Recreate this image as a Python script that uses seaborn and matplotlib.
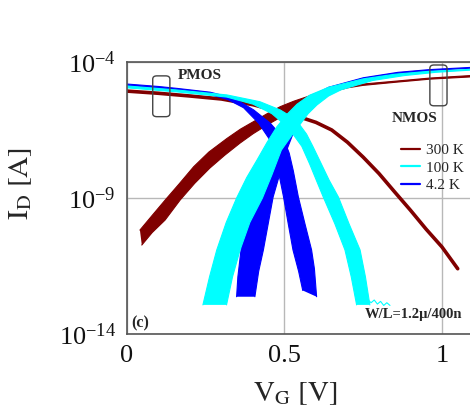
import numpy as np
import pandas as pd
import matplotlib
matplotlib.use("Agg")
import matplotlib.pyplot as plt
import seaborn as sns
from matplotlib.patches import FancyBboxPatch
from matplotlib.lines import Line2D
from matplotlib.ticker import FixedLocator, LogFormatterMathtext, NullLocator

# ---------------- data (VG in V, log10 of ID in A) ----------------
temps = ["300 K", "100 K", "4.2 K"]
temp_colors = ["#800000", "#00ffff", "#0000ff"]

# PMOS 300 K (narrow bundle, drawn as a thick line)
p300_vg = [0, 0.1, 0.2, 0.3, 0.4, 0.45, 0.5, 0.55, 0.6, 0.65, 0.7, 0.75, 0.8, 0.85, 0.9, 0.95, 1.0, 1.05]
p300_log = [-5.07, -5.15, -5.25, -5.36, -5.57, -5.72, -5.86, -6.03, -6.22, -6.5, -6.95, -7.5,
            -8.1, -8.78, -9.45, -10.15, -10.8, -11.6]

# NMOS 300 K bundle edges
n300_a_vg = [0.041, 0.08, 0.1216, 0.165, 0.2117, 0.26, 0.3175, 0.36, 0.402, 0.445, 0.487, 0.53,
             0.571, 0.635, 0.70, 0.749, 0.857, 0.962, 1.089]
n300_a_log = [-10.18, -9.64, -9.07, -8.49, -7.85, -7.31, -6.81, -6.47, -6.19, -5.90, -5.64, -5.44,
              -5.28, -5.00, -4.88, -4.81, -4.70, -4.59, -4.50]
n300_b_vg = [0.047, 0.08, 0.121, 0.169, 0.215, 0.263, 0.31, 0.359, 0.40, 0.444, 0.485, 0.529,
             0.58, 0.635, 0.70, 0.749, 0.857, 0.962, 1.089]
n300_b_log = [-10.73, -10.27, -9.81, -9.07, -8.46, -7.90, -7.43, -6.98, -6.64, -6.32, -6.05, -5.76,
              -5.45, -5.15, -4.95, -4.86, -4.74, -4.63, -4.55]

# PMOS 4.2 K bundle edges
p4_a_vg = [0, 0.1, 0.159, 0.264, 0.339, 0.402, 0.455, 0.47, 0.49, 0.505, 0.515, 0.528, 0.544,
           0.565, 0.586, 0.595, 0.602]
p4_a_log = [-4.81, -4.90, -4.97, -5.11, -5.33, -5.76, -6.25, -6.45, -6.75, -7.05, -7.35, -8.0,
            -8.96, -9.95, -10.91, -11.6, -12.63]
p4_b_vg = [0, 0.159, 0.264, 0.32, 0.37, 0.418, 0.45, 0.465, 0.482, 0.497, 0.512, 0.527, 0.545, 0.558]
p4_b_log = [-4.88, -5.03, -5.2, -5.38, -5.68, -6.25, -6.8, -7.24, -8.1, -8.96, -9.95, -10.91,
            -11.7, -12.4]

# NMOS 4.2 K bundle edges
n4_a_vg = [0.348, 0.352, 0.362, 0.375, 0.39, 0.43, 0.459, 0.48, 0.52, 0.57, 0.64, 0.75, 0.86, 0.96, 1.089]
n4_a_log = [-12.63, -11.9, -10.91, -9.9, -8.96, -7.7, -7.24, -6.7, -5.9, -5.35, -4.93, -4.58,
            -4.38, -4.28, -4.2]
n4_b_vg = [0.406, 0.418, 0.433, 0.464, 0.507, 0.525, 0.56, 0.61, 0.67, 0.77, 0.87, 0.97, 1.089]
n4_b_log = [-12.63, -11.7, -10.91, -8.96, -7.24, -6.7, -5.95, -5.4, -5.02, -4.64, -4.43, -4.31, -4.23]

# PMOS 100 K bundle edges
p100_a_vg = [0, 0.159, 0.317, 0.422, 0.486, 0.52, 0.549, 0.57, 0.59, 0.615, 0.642, 0.671, 0.705,
             0.740, 0.757, 0.771]
p100_a_log = [-4.88, -5.03, -5.21, -5.46, -5.76, -6.0, -6.32, -6.65, -7.1, -7.7, -8.35, -8.96,
              -9.95, -10.91, -11.9, -12.93]
p100_b_vg = [0, 0.159, 0.317, 0.40, 0.46, 0.50, 0.53, 0.555, 0.58, 0.603, 0.623, 0.66, 0.692,
             0.712, 0.729]
p100_b_log = [-4.95, -5.10, -5.29, -5.55, -5.9, -6.3, -6.7, -7.1, -7.75, -8.4, -8.96, -9.95,
              -10.91, -11.9, -12.93]
p100_tail_vg = [0.76, 0.775, 0.785, 0.795, 0.805, 0.815, 0.825, 0.835]
p100_tail_log = [-12.7, -12.85, -12.75, -12.9, -12.8, -12.95, -12.85, -12.95]

# NMOS 100 K bundle edges
n100_a_vg = [0.241, 0.262, 0.285, 0.315, 0.348, 0.38, 0.413, 0.445, 0.476, 0.51, 0.54, 0.58,
             0.64, 0.75, 0.85, 0.95, 1.089]
n100_a_log = [-12.93, -11.9, -10.91, -9.9, -9.0, -8.25, -7.6, -6.95, -6.38, -5.9, -5.55, -5.22,
              -4.93, -4.62, -4.45, -4.35, -4.27]
n100_b_vg = [0.316, 0.335, 0.359, 0.39, 0.43, 0.46, 0.49, 0.52, 0.549, 0.575, 0.603, 0.64,
             0.68, 0.78, 0.88, 0.98, 1.089]
n100_b_log = [-12.93, -11.9, -10.91, -9.9, -9.0, -8.15, -7.24, -6.75, -6.3, -5.9, -5.58, -5.25,
              -5.02, -4.68, -4.50, -4.38, -4.30]

x_ticks = [0, 0.5, 1]
x_tick_labels = ["0", "0.5", "1"]
y_ticks = [1e-14, 1e-9, 1e-4]

# ---------------- style ----------------
sns.set_theme(style="white")
plt.rcParams["font.family"] = ["Liberation Serif", "DejaVu Serif"]
plt.rcParams["mathtext.fontset"] = "stix"

fig = plt.figure(figsize=(4.70, 4.13), dpi=100)
ax = fig.add_axes([127 / 470, 1 - 334 / 413, 343 / 470, 272 / 413])
ax.set_yscale("log")


def draw_band(vg_a, log_a, vg_b, log_b, color):
    df = pd.DataFrame({
        "VG": list(vg_a) + list(vg_b),
        "ID": list(10.0 ** np.array(log_a)) + list(10.0 ** np.array(log_b)),
        "edge": ["a"] * len(vg_a) + ["b"] * len(vg_b),
    })
    sns.lineplot(data=df, x="VG", y="ID", units="edge", estimator=None, sort=False,
                 color=color, lw=0.8, ax=ax, legend=False)
    px = np.concatenate([np.array(vg_a), np.array(vg_b)[::-1]])
    py = np.concatenate([10.0 ** np.array(log_a), (10.0 ** np.array(log_b))[::-1]])
    ax.fill(px, py, color=color, lw=0, zorder=2)


c300, c100, c4 = temp_colors

# 300 K
df_p300 = pd.DataFrame({"VG": p300_vg, "ID": 10.0 ** np.array(p300_log)})
sns.lineplot(data=df_p300, x="VG", y="ID", color=c300, lw=2.6, sort=False, ax=ax)
draw_band(n300_a_vg, n300_a_log, n300_b_vg, n300_b_log, c300)
# 4.2 K
draw_band(p4_a_vg, p4_a_log, p4_b_vg, p4_b_log, c4)
draw_band(n4_a_vg, n4_a_log, n4_b_vg, n4_b_log, c4)
# 100 K
draw_band(p100_a_vg, p100_a_log, p100_b_vg, p100_b_log, c100)
df_tail = pd.DataFrame({"VG": p100_tail_vg, "ID": 10.0 ** np.array(p100_tail_log)})
sns.lineplot(data=df_tail, x="VG", y="ID", color=c100, lw=0.8, sort=False, ax=ax)
draw_band(n100_a_vg, n100_a_log, n100_b_vg, n100_b_log, c100)

# ---------------- axes ----------------
ax.set_xlim(0, 1.089)
ax.set_ylim(1e-14, 1e-4)
ax.xaxis.set_major_locator(FixedLocator(x_ticks))
ax.set_xticklabels(x_tick_labels)
ax.yaxis.set_major_locator(FixedLocator(y_ticks))
ax.yaxis.set_major_formatter(LogFormatterMathtext())
ax.yaxis.set_minor_locator(NullLocator())
ax.tick_params(axis="both", length=0, labelsize=19, pad=8, colors="#111111")
ax.grid(True, color="#b8b8b8", lw=1.0)
ax.set_axisbelow(True)
for s in ["left", "bottom", "top"]:
    ax.spines[s].set_color("#555555")
    ax.spines[s].set_linewidth(1.2)
ax.spines["right"].set_visible(False)

ax.set_xlabel(r"$\mathrm{V_G\ [V]}$", fontsize=21)
ax.set_ylabel(r"$\mathrm{I_D\ [A]}$", fontsize=21)
ax.xaxis.set_label_coords(0.49, -0.17)
ax.yaxis.set_label_coords(-0.27, 0.555)

# annotations
ax.text(0.149, 0.949, "PMOS", transform=ax.transAxes, fontsize=11, fontweight="bold",
        ha="left", va="center")
ax.text(0.773, 0.794, "NMOS", transform=ax.transAxes, fontsize=11, fontweight="bold",
        ha="left", va="center")
ax.text(0.012, 0.04, "(c)", transform=ax.transAxes, fontsize=11.5, fontweight="bold",
        ha="left", va="center")
ax.text(0.694, 0.07, "W/L=1.2μ/400n", transform=ax.transAxes, fontsize=10.5, fontweight="bold",
        ha="left", va="center")

for (x0, y0) in [(0.075, 0.799), (0.883, 0.839)]:
    box = FancyBboxPatch((x0, y0), 0.050, 0.150, boxstyle="round,pad=0,rounding_size=0.012",
                         transform=ax.transAxes, fill=False, ec="#444444", lw=1.0, zorder=5)
    ax.add_patch(box)

handles = [Line2D([0], [0], color=c, lw=1.6) for c in temp_colors]
leg = ax.legend(handles, temps, loc="upper left", bbox_to_anchor=(0.80, 0.70), frameon=False,
                fontsize=11, handlelength=1.2, handletextpad=0.4, labelspacing=0.25,
                borderpad=0, borderaxespad=0)

fig.savefig("out.png", dpi=100)
